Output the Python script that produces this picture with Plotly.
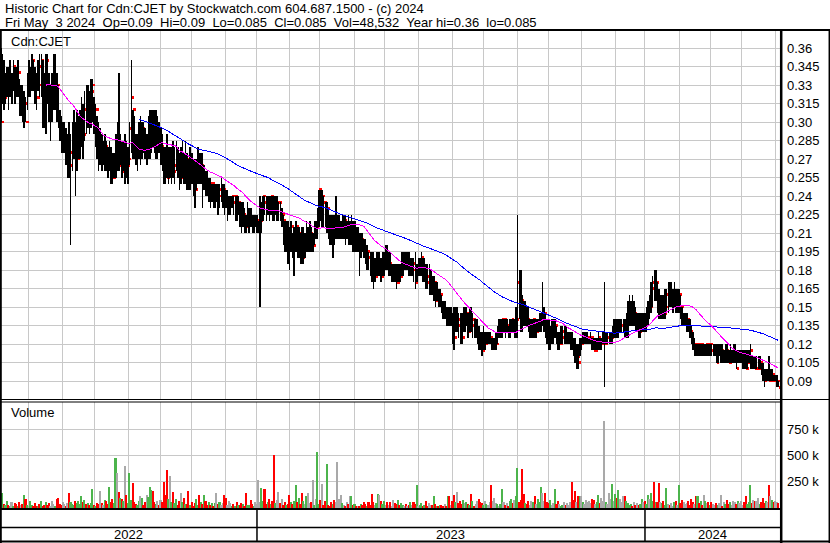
import numpy as np
import pandas as pd
import plotly.graph_objects as go

TITLE_LINE1 = "Historic Chart for Cdn:CJET by Stockwatch.com 604.687.1500 - (c) 2024"
TITLE_LINE2 = "Fri May  3 2024  Op=0.09  Hi=0.09  Lo=0.085  Cl=0.085  Vol=48,532  Year hi=0.36  lo=0.085"
SYMBOL = "Cdn:CJET"
VOLUME_LABEL = "Volume"
YEARS = ["2022", "2023", "2024"]

# daily prices in cents (2022-05 .. 2024-05-03)
HIGH = [
    36, 35.5, 35, 34, 34.5, 34.5, 35, 34, 35, 34.5,
    34.5, 35, 33.5, 33, 33, 32.5, 32, 34, 35, 34.5,
    35.5, 35, 34.5, 34, 35, 35.5, 35.5, 35, 34, 35.5,
    35.5, 34, 33, 34, 35.5, 35.5, 34, 33, 31, 30.5,
    30, 30, 29.5, 29, 30, 29, 30, 31, 30, 31,
    30.5, 31, 32, 31.5, 32.5, 33, 33, 32.5, 33.5, 33.5,
    32, 31.5, 30.5, 30, 29.5, 29, 28.5, 29, 28.5, 28,
    28.5, 28, 27.5, 27.5, 29, 30, 34, 29, 28.5, 28.5,
    29, 28.5, 28, 30, 35, 31, 30.5, 29, 29, 30,
    30.5, 30, 30, 29.5, 29, 30.5, 31, 31, 31, 31,
    31, 30.5, 30, 29.5, 29, 28, 28, 29, 28, 28,
    28, 28.5, 28, 28.5, 28, 27.5, 28, 28.5, 27.5, 28.5,
    27.5, 27, 28, 27.5, 27, 27, 27, 28, 27.5, 27.5,
    27.5, 26.5, 26, 26, 25.5, 25.5, 25, 25, 25, 25,
    25, 25, 25.5, 25, 25, 24.5, 24.5, 24, 24, 24,
    24, 24, 24, 24, 23.5, 23.5, 23.5, 23, 22.5, 23.5,
    23, 23, 22.5, 22.5, 22.5, 22.5, 22, 24, 23.5, 24,
    24, 24, 24, 24, 24, 24, 24, 24, 24, 23.5,
    23.5, 23, 22.5, 22, 22, 22, 21.5, 22, 21, 21.5,
    22, 21.5, 21.5, 21, 21.5, 21.5, 21, 22, 21.5, 22,
    21.5, 21, 22, 22, 23, 24.5, 24.5, 24.5, 24, 23.5,
    23.5, 23, 22.5, 22.5, 22.5, 22.5, 24, 22.5, 22.5, 22,
    22.5, 22.5, 22.5, 22, 22.5, 22, 22.5, 22, 22, 21.5,
    21.5, 21, 21, 21, 20.5, 20.5, 20, 19.5, 19.5, 19.5,
    19.5, 19, 19.5, 19.5, 19.5, 19, 19.5, 19.5, 20, 20,
    19.5, 19.5, 18.5, 18.5, 18.5, 18.5, 18.5, 18.5, 19.5, 19.5,
    19.5, 19.5, 19.5, 19.5, 19, 19, 19, 19.5, 18.5, 19,
    19, 19.5, 19, 19, 18.5, 18.5, 18.5, 18, 17.5, 17.5,
    17, 17, 16.5, 16.5, 16, 15.5, 15.5, 15, 15, 15,
    15, 14.5, 15, 15, 15, 14.5, 14.5, 14.5, 15, 15,
    15, 14.5, 15, 15, 14.5, 14, 14, 14, 13.5, 13,
    13, 13.5, 13, 13, 13, 13, 12.5, 12.5, 12.5, 13,
    13.5, 14, 14, 14, 14, 14, 14, 13.5, 14, 14,
    14, 14, 15, 22.5, 18, 18, 16, 15.5, 15.5, 15,
    15, 14, 14, 14, 14, 14, 14, 14.5, 14.5, 17,
    15, 14.5, 14, 14, 13.5, 14, 14, 14, 13.5, 13,
    13, 13.5, 13.5, 13.5, 13.5, 13, 13, 13, 13, 12.5,
    12.5, 12, 12, 12.5, 12.5, 13, 13, 13, 13, 12.5,
    13, 12.5, 12.5, 12.5, 12.5, 13, 12.5, 12.5, 13, 17,
    13, 13, 13, 13, 13.5, 14, 14, 14, 14, 14,
    14, 14, 14, 14.5, 15.5, 16, 15.5, 16, 15.5, 15,
    14.5, 14.5, 14.5, 14.5, 14.5, 14.5, 15, 15.5, 16, 17,
    17.5, 18, 18, 17, 16.5, 16, 16, 16, 16.5, 16.5,
    17, 17, 17, 16.5, 17, 16.5, 16.5, 16.5, 16, 15,
    14.5, 14.5, 14.5, 14, 14, 13.5, 13, 12.5, 12, 12,
    12, 12, 12, 12, 12, 12, 12, 12, 12, 12,
    12, 12, 12, 12, 12, 12, 11.5, 12, 12, 11.5,
    12, 11.5, 12, 12, 11.5, 11.5, 11.5, 11.5, 11.5, 11.5,
    11.5, 11.5, 11.5, 12, 11, 11, 11, 11, 11, 11,
    10.5, 10.5, 10, 10, 10, 11, 10, 10, 9.5, 9.5, 9.5, 9,
]

LOW = [
    30, 31.5, 31, 31.5, 32, 31, 32, 31.5, 32.5, 31.5,
    32, 32, 30.5, 30.5, 30, 29.5, 30, 31, 32, 32,
    32.5, 32.5, 31.5, 31, 32.5, 32, 32, 29.5, 29.5, 29,
    31.5, 30, 28.5, 30, 31, 31, 30, 29.5, 28.5, 27.5,
    27.5, 27.5, 26.5, 25.5, 25.5, 20, 26, 27, 24, 26,
    27, 27, 28, 27, 28.5, 29, 29.5, 29, 29.5, 30,
    29, 28, 27, 26, 26.5, 26, 26.5, 26, 26, 25.5,
    26, 25, 25, 25.5, 25.5, 26, 26, 26.5, 25.5, 26,
    25, 25.5, 25, 26.5, 27.5, 27, 27, 26.5, 26, 27,
    26.5, 27, 27.5, 27, 26.5, 27, 27, 27.5, 28, 27.5,
    27, 27, 27.5, 26.5, 26, 25, 25, 25.5, 25, 25.5,
    25, 25.5, 25, 26, 25.5, 24.5, 25, 25.5, 25, 25,
    24.5, 24.5, 24.5, 25, 24, 23, 24.5, 25, 25, 25,
    23, 24.5, 24, 24, 23.5, 23, 23.5, 23, 23, 23.5,
    22.5, 23, 23.5, 23, 22.5, 23, 22, 22.5, 22.5, 23,
    22.5, 22, 22, 22.5, 21.5, 21, 21.5, 21, 21, 21.5,
    21, 21.5, 21, 21, 21.5, 21, 21, 15, 21, 22,
    22.5, 22, 22.5, 22, 22.5, 22, 22, 22.5, 22, 22,
    22, 21.5, 20, 19.5, 19.5, 18.5, 18, 19.5, 19, 17.5,
    19.5, 19, 19, 18.5, 18.5, 18.5, 19, 19.5, 19.5, 19.5,
    19.5, 19.5, 20, 20.5, 20.5, 21.5, 22, 21.5, 21.5, 21.5,
    21, 20.5, 20, 20, 19, 20, 20.5, 20.5, 20.5, 20.5,
    20.5, 20.5, 20, 20.5, 20, 20, 20, 19.5, 19.5, 19.5,
    19.5, 17.5, 19, 19.5, 19, 18.5, 18, 18, 17.5, 17,
    16.5, 17, 17.5, 17.5, 17.5, 17, 17.5, 17.5, 18, 18,
    17.5, 17.5, 17, 17, 17, 16.5, 17, 17, 17.5, 17.5,
    18, 18, 18, 17.5, 17.5, 17.5, 17, 16.5, 17, 17.5,
    17.5, 17.5, 17, 17, 16.5, 16.5, 16, 16, 16, 15.5,
    15, 15.5, 15, 15, 14.5, 14, 14, 13.5, 13.5, 13.5,
    13.5, 12, 11.5, 13, 13, 12.5, 12, 12, 13, 13,
    13.5, 12.5, 13, 13, 12.5, 12.5, 12.5, 12, 11.5, 11.5,
    11, 11.5, 11.5, 12, 12, 12, 11.5, 11.5, 11.5, 11.5,
    12, 12.5, 12.5, 12.5, 13, 12.5, 13, 12.5, 12.5, 13,
    13, 12.5, 12.5, 12.5, 14, 13, 13, 13.5, 13.5, 13.5,
    13, 12.5, 12.5, 12.5, 12.5, 12.5, 13, 13, 13, 13.5,
    13, 12.5, 12, 11.5, 11.5, 12, 12, 12.5, 12, 11.5,
    11.5, 12, 12, 12, 12, 12, 12, 11.5, 11.5, 11,
    10.5, 10, 10, 11, 11.5, 12, 12, 12, 12, 12,
    12, 11.5, 11.5, 11.5, 11.5, 11.5, 11.5, 11.5, 12, 8.5,
    12, 12, 12, 12, 12, 12.5, 12.5, 12.5, 12.5, 13,
    13, 13, 12.5, 12.5, 12.5, 13.5, 13.5, 13.5, 13.5, 13,
    13, 12.5, 12.5, 13, 13, 13, 13, 13.5, 14, 14.5,
    15, 15.5, 15.5, 14.5, 14, 14, 14, 14, 14, 14.5,
    14.5, 15, 15, 14.5, 15, 14.5, 14.5, 14.5, 14, 13.5,
    13.5, 13.5, 13, 13, 12.5, 12, 11.5, 11, 11, 11,
    11, 11, 11, 11, 11, 11, 11, 11, 11, 11,
    11, 10.5, 10.5, 11, 10.5, 10.5, 10.5, 10.5, 10.5, 10.5,
    10.5, 10.5, 10.5, 10.5, 10, 10.5, 10.5, 10.5, 10, 10,
    10, 10, 10.5, 10, 10, 10, 10, 10, 10, 10,
    9.5, 9, 8.5, 9, 9, 9, 9, 9, 9, 9, 8.5, 8.5,
]

CLOSE = [
    30, 33.5, 32, 33, 34, 32.5, 33, 33, 34.5, 33.5,
    33, 34, 32, 32, 31, 31.5, 30, 33, 33, 34,
    35, 33.5, 33, 32, 34.5, 33, 35, 33, 32.5, 35,
    33, 32, 32, 32, 32, 33.5, 33, 30, 29.5, 28,
    28, 28, 27, 27, 26.5, 27.5, 28, 29, 26.5, 27,
    28, 29, 29.5, 29, 31, 30, 32, 31, 32.5, 33,
    30, 31, 29, 28, 28, 27.5, 27.5, 28, 27, 26.5,
    27, 26, 25.5, 26, 27, 27, 26.5, 28, 26, 27,
    27, 26.5, 27, 29.5, 32, 31, 28, 27.5, 28.5, 29,
    29, 29.5, 28.5, 28, 28, 28.5, 29, 29.5, 29, 28.5,
    29, 29, 28, 28, 27, 26.5, 26, 25.5, 26, 26,
    26.5, 26, 26.5, 27.5, 26.5, 25.5, 25.5, 27, 26, 27,
    26.5, 26, 27, 26.5, 25, 24.5, 26, 27, 26, 26.5,
    25, 25.5, 25, 24.5, 25, 24.5, 25, 24, 24.5, 24.5,
    24, 24.5, 24.5, 24.5, 24, 23.5, 23.5, 23.5, 23.5, 24,
    23.5, 24, 23, 23.5, 22.5, 22, 22.5, 22, 21.5, 22,
    22.5, 22, 21.5, 22, 22, 22, 22, 22, 23, 24,
    23.5, 23, 23.5, 23, 24, 23.5, 23, 23.5, 23.5, 23.5,
    22.5, 22.5, 22, 21, 21.5, 21, 20.5, 21.5, 20, 21,
    21.5, 20.5, 21, 19.5, 19, 20, 20, 21, 21, 21,
    20, 20, 21.5, 21.5, 22.5, 24.5, 24, 24, 23.5, 22.5,
    23, 22, 21.5, 21, 21.5, 21, 21, 21, 21, 21,
    22, 22, 21.5, 21.5, 21, 21, 21.5, 20.5, 21, 20.5,
    20.5, 20, 20.5, 20, 19.5, 19, 19.5, 19, 18.5, 18,
    17.5, 17.5, 18, 18.5, 18.5, 17.5, 18.5, 19, 19, 18.5,
    18.5, 18, 18, 18, 17.5, 17, 18, 17.5, 18.5, 19,
    19, 18.5, 18.5, 18, 18.5, 18.5, 18, 17, 18, 18,
    18.5, 19, 17.5, 18, 17.5, 17, 17, 17, 16.5, 17,
    15.5, 16, 15.5, 16, 15, 14.5, 14.5, 14, 14.5, 14,
    14, 13, 12.5, 14, 14, 13.5, 13, 12.5, 14, 14,
    14.5, 13, 14, 13.5, 14, 13, 13, 13, 12.5, 12,
    11.5, 12, 12, 12.5, 12.5, 12.5, 12, 12, 12, 12,
    13, 13, 13.5, 14, 14, 13.5, 13.5, 13, 13.5, 14,
    13.5, 13.5, 14, 17, 16, 15.5, 14.5, 14, 14.5, 14,
    13.5, 13.5, 13.5, 14, 13, 13, 13.5, 14, 14.5, 14.5,
    14.5, 13.5, 13, 12.5, 13, 13, 13, 13.5, 12.5, 12,
    12, 12.5, 13, 13, 12.5, 12.5, 12.5, 12.5, 12, 11.5,
    11, 11, 10.5, 12, 12, 12.5, 12.5, 12.5, 12.5, 12.5,
    12.5, 12, 11.5, 11.5, 12, 12.5, 12, 12, 12, 12,
    12.5, 12.5, 12.5, 12.5, 13, 13, 13.5, 13, 13.5, 13.5,
    13.5, 13.5, 13, 13.5, 14, 14.5, 15, 14.5, 14.5, 14,
    14, 13, 13.5, 14, 14, 13.5, 14, 15, 15, 16.5,
    17, 16.5, 17, 15.5, 14.5, 14.5, 15, 14.5, 15, 16,
    16, 15.5, 15.5, 15.5, 16, 15.5, 15.5, 16, 15, 14,
    14, 14, 14, 13.5, 13, 12.5, 12, 12, 11.5, 12,
    11.5, 12, 11.5, 11.5, 12, 12, 11.5, 12, 11.5, 11.5,
    11.5, 10.5, 11.5, 11.5, 11.5, 11, 11, 11.5, 11, 10.5,
    11, 11, 11, 11, 10, 11, 11, 11, 11, 10.5,
    10, 10.5, 11, 11.5, 10.5, 10.5, 10, 10, 10, 10.5,
    10, 9.5, 9, 9.5, 9.5, 9, 9, 9.5, 9, 9, 9, 8.5,
]

# daily volume in thousands of shares
VOLUME_K = [
    60, 144, 40, 25, 70, 30, 15, 55, 20, 45,
    35, 20, 60, 25, 40, 128, 90, 30, 20, 65,
    25, 15, 50, 20, 10, 35, 70, 15, 25, 60,
    30, 45, 20, 65, 35, 15, 90, 95, 40, 25,
    55, 35, 20, 45, 144, 60, 40, 30, 65, 50,
    70, 40, 112, 60, 80, 35, 45, 25, 50, 186,
    30, 20, 50, 35, 167, 45, 25, 80, 70, 40,
    205, 60, 90, 50, 474, 336, 154, 100, 85, 70,
    400, 120, 50, 330, 80, 234, 60, 40, 30, 70,
    110, 95, 30, 60, 120, 105, 205, 170, 167, 60,
    35, 70, 25, 80, 55, 250, 120, 359, 90, 301,
    60, 154, 45, 90, 30, 70, 141, 55, 100, 40,
    35, 167, 25, 60, 20, 45, 90, 30, 125, 55,
    40, 128, 70, 25, 60, 30, 50, 20, 45, 144,
    35, 60, 25, 45, 122, 95, 30, 70, 50, 20,
    40, 15, 60, 30, 25, 50, 35, 20, 144, 30,
    25, 80, 40, 20, 60, 35, 263, 55, 192, 70,
    186, 40, 60, 90, 35, 70, 503, 45, 80, 154,
    50, 90, 30, 60, 25, 40, 128, 55, 35, 70,
    224, 60, 100, 40, 144, 70, 35, 115, 140, 45,
    60, 269, 30, 90, 538, 40, 80, 231, 25, 65,
    417, 30, 20, 55, 40, 75, 60, 442, 90, 122,
    45, 30, 20, 60, 35, 110, 115, 25, 40, 15,
    10, 20, 35, 25, 60, 40, 15, 55, 25, 135,
    60, 30, 45, 138, 128, 70, 40, 65, 30, 55,
    25, 60, 20, 80, 50, 35, 80, 25, 45, 30,
    20, 40, 15, 30, 55, 25, 60, 35, 215, 20,
    25, 50, 15, 30, 70, 20, 45, 30, 25, 115,
    35, 20, 15, 30, 25, 20, 40, 15, 110, 110,
    30, 70, 122, 60, 154, 50, 70, 40, 80, 45,
    60, 35, 25, 138, 70, 20, 40, 65, 90, 55,
    50, 30, 70, 35, 25, 60, 224, 65, 95, 45,
    40, 20, 35, 183, 60, 25, 50, 20, 65, 90,
    50, 80, 110, 378, 60, 75, 369, 138, 50, 40,
    65, 30, 70, 55, 110, 40, 85, 60, 205, 140,
    70, 145, 60, 45, 75, 30, 50, 183, 40, 65,
    35, 20, 25, 60, 30, 45, 25, 60, 250, 80,
    167, 60, 115, 110, 112, 55, 40, 75, 60, 70,
    50, 90, 75, 40, 60, 128, 50, 95, 70, 833,
    60, 40, 147, 85, 231, 70, 130, 95, 173, 90,
    60, 118, 110, 65, 50, 25, 35, 20, 60, 30,
    50, 25, 40, 90, 60, 70, 35, 128, 90, 144,
    70, 250, 60, 55, 237, 60, 45, 65, 30, 192,
    40, 25, 50, 20, 55, 70, 30, 224, 45, 80,
    60, 35, 50, 70, 25, 90, 60, 40, 110, 110,
    45, 65, 30, 120, 70, 45, 55, 30, 60, 40,
    25, 50, 30, 45, 128, 20, 60, 35, 75, 40,
    55, 30, 65, 60, 35, 70, 45, 65, 25, 60,
    110, 40, 55, 215, 50, 80, 65, 70, 95, 40,
    60, 95, 45, 70, 55, 215, 110, 80, 60, 65, 55, 48.532,
]

PRICE_TICKS = ["0.36", "0.345", "0.33", "0.315", "0.30", "0.285", "0.27", "0.255", "0.24",
               "0.225", "0.21", "0.195", "0.18", "0.165", "0.15", "0.135", "0.12", "0.105", "0.09"]
VOLUME_TICKS = ["250 k", "500 k", "750 k"]
VOLUME_TICK_VALUES = [250000, 500000, 750000]

HOLIDAYS = ["2022-05-23", "2022-07-01", "2022-08-01", "2022-09-05", "2022-10-10", "2022-12-26",
            "2022-12-27", "2023-01-02", "2023-02-20", "2023-04-07", "2023-05-22", "2023-07-03",
            "2023-08-07", "2023-09-04", "2023-10-09", "2023-12-25", "2023-12-26", "2024-01-01",
            "2024-02-19", "2024-03-29"]

N = len(CLOSE)
assert len(HIGH) == N and len(LOW) == N and len(VOLUME_K) == N, (len(HIGH), len(LOW), N, len(VOLUME_K))

hol = set(pd.to_datetime(HOLIDAYS))
all_days = [d for d in pd.bdate_range("2022-03-01", "2024-05-03") if d not in hol]
dates = all_days[-N:]

high = np.array(HIGH) / 100.0
low = np.array(LOW) / 100.0
close = np.array(CLOSE) / 100.0
volume = np.array(VOLUME_K) * 1000.0
idx = np.arange(N)

ma_fast = pd.Series(close).rolling(30).mean()
ma_slow = pd.Series(close).rolling(90).mean()

chg = np.diff(close, prepend=close[0])
vol_colors = np.where(chg > 0, "#4CB44C", np.where(chg < 0, "#FF0000", "#A9A9A9"))

month_starts = [k for k in range(1, N) if dates[k].month != dates[k - 1].month]
year_starts = [k for k in range(1, N) if dates[k].year != dates[k - 1].year]

W, H = 830, 543
PX_PER_DAY = 1.552
X0 = -0.9 / PX_PER_DAY
X1 = X0 + 780 / PX_PER_DAY


def px(x):
    return x / W


def py(y):
    return 1 - y / H


FONT = "Liberation Sans, Arial, sans-serif"
GRID = "#C8C8C8"
TXT = 13

bx, by = [], []
for i in range(N):
    bx += [i, i, None]
    by += [low[i], high[i], None]

fig = go.Figure()
fig.add_trace(go.Scatter(x=idx + 1.0, y=close, mode="markers",
                         marker=dict(symbol="square", size=2.8, color="#FF0000", line=dict(width=0)),
                         hoverinfo="skip", xaxis="x", yaxis="y"))
fig.add_trace(go.Scatter(x=bx, y=by, mode="lines", line=dict(color="black", width=1.5),
                         connectgaps=False, hoverinfo="skip", xaxis="x", yaxis="y"))
fig.add_trace(go.Scatter(x=idx, y=ma_slow, mode="lines", line=dict(color="#0000FF", width=1),
                         xaxis="x", yaxis="y"))
fig.add_trace(go.Scatter(x=idx, y=ma_fast, mode="lines", line=dict(color="#FF00FF", width=1),
                         xaxis="x", yaxis="y"))
fig.add_trace(go.Bar(x=idx, y=volume, marker=dict(color=vol_colors, line=dict(width=0)),
                     width=1.0, xaxis="x2", yaxis="y2"))

price_top = 0.36 + 17 * (0.015 / 18.5)
price_bot = 0.09 - 18 * (0.015 / 18.5)
vpp = 250000 / 26.2
vol_bot = -1 * vpp
vol_top = 106 * vpp

axis_common = dict(range=[X0, X1], tickvals=month_starts, showgrid=True, gridcolor=GRID,
                   gridwidth=1, showticklabels=False, ticks="", zeroline=False, showline=False)

fig.update_layout(
    width=W, height=H, margin=dict(l=0, r=0, t=0, b=0),
    paper_bgcolor="white", plot_bgcolor="white", showlegend=False, bargap=0,
    font=dict(family=FONT, size=13, color="black"),
    xaxis=dict(domain=[0, 780 / W], anchor="y", **axis_common),
    xaxis2=dict(domain=[0, 780 / W], anchor="y2", matches="x", **axis_common),
    yaxis=dict(domain=[py(399), py(31)], range=[price_bot, price_top], side="right",
               tickvals=[float(t) for t in PRICE_TICKS], ticktext=PRICE_TICKS,
               showgrid=True, gridcolor=GRID, gridwidth=1, zeroline=False, showline=False,
               ticks="", ticklabelstandoff=6, tickfont=dict(family=FONT, size=13, color="black"),
               anchor="x"),
    yaxis2=dict(domain=[py(509), py(402)], range=[vol_bot, vol_top], side="right",
                tickvals=VOLUME_TICK_VALUES, ticktext=VOLUME_TICKS,
                showgrid=True, gridcolor=GRID, gridwidth=1, zeroline=False, showline=False,
                ticks="", ticklabelstandoff=6, tickfont=dict(family=FONT, size=13, color="black"),
                anchor="x2"),
)

shapes = []


def hline(y, x0, x1, w):
    shapes.append(dict(type="line", xref="paper", yref="paper", x0=px(x0), x1=px(x1),
                       y0=py(y), y1=py(y), line=dict(color="black", width=w), layer="above"))


def vline(x, y0, y1, w):
    shapes.append(dict(type="line", xref="paper", yref="paper", x0=px(x), x1=px(x),
                       y0=py(y0), y1=py(y1), line=dict(color="black", width=w), layer="above"))


hline(30, 0, 830, 2)
hline(399.5, 0, 830, 1)
hline(402, 0, 781, 1)
hline(509, 0, 781, 2)
hline(527.5, 0, 781, 1.5)
hline(541.5, 0, 830, 2)
vline(0.8, 30, 543, 2)
vline(781.2, 30, 543, 2.5)
vline(829.3, 30, 543, 1.5)
for k in year_starts:
    shapes.append(dict(type="line", xref="x", yref="paper", x0=k, x1=k, y0=py(509), y1=py(541),
                       line=dict(color="black", width=1.5), layer="above"))

annotations = [
    dict(text=TITLE_LINE1, x=px(3), y=py(9), xref="paper", yref="paper", xanchor="left",
         yanchor="middle", showarrow=False, font=dict(family=FONT, size=TXT, color="black")),
    dict(text=TITLE_LINE2.replace("  ", "\u00a0 "), x=px(3), y=py(22), xref="paper", yref="paper",
         xanchor="left", yanchor="middle", showarrow=False,
         font=dict(family=FONT, size=TXT, color="black")),
    dict(text=SYMBOL, x=px(9), y=py(41), xref="paper", yref="paper", xanchor="left",
         yanchor="middle", showarrow=False, font=dict(family=FONT, size=TXT, color="black")),
    dict(text=VOLUME_LABEL, x=px(9), y=py(413), xref="paper", yref="paper", xanchor="left",
         yanchor="middle", showarrow=False, font=dict(family=FONT, size=TXT, color="black")),
]
bounds = [X0] + year_starts + [X1]
for j, yr in enumerate(YEARS):
    annotations.append(dict(text=yr, x=(bounds[j] + bounds[j + 1]) / 2, y=py(534), xref="x",
                            yref="paper", xanchor="center", yanchor="middle", showarrow=False,
                            font=dict(family=FONT, size=TXT, color="black")))

fig.update_layout(shapes=shapes, annotations=annotations)

POST = (
    "document.body.style.margin='0';document.body.style.padding='0';"
    "document.body.style.overflow='hidden';"
    "var gd=document.getElementById('{plot_id}');"
    "gd.querySelectorAll('.scatterlayer path, .barlayer path').forEach(function(p){"
    "p.style.shapeRendering='crispEdges';});"
)
fig.write_html("out.html", config={"displayModeBar": False}, post_script=POST)
